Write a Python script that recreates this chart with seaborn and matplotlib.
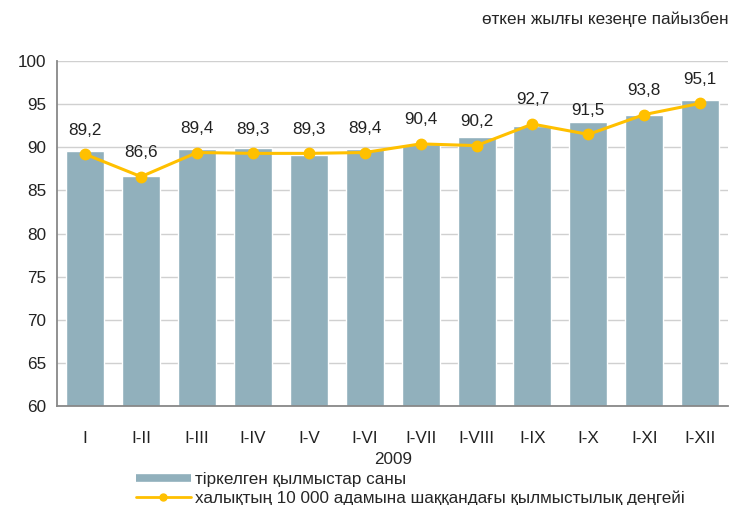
import matplotlib
matplotlib.use('Agg')
import matplotlib.pyplot as plt
from matplotlib.lines import Line2D
import seaborn as sns
import pandas as pd

periods = ['I', 'I-II', 'I-III', 'I-IV', 'I-V', 'I-VI', 'I-VII', 'I-VIII', 'I-IX', 'I-X', 'I-XI', 'I-XII']
crimes = [89.6, 86.7, 89.8, 89.9, 89.1, 89.8, 90.4, 91.2, 92.5, 92.9, 93.7, 95.5]
crime_rate = [89.2, 86.6, 89.4, 89.3, 89.3, 89.4, 90.4, 90.2, 92.7, 91.5, 93.8, 95.1]
rate_labels = ['89,2', '86,6', '89,4', '89,3', '89,3', '89,4', '90,4', '90,2', '92,7', '91,5', '93,8', '95,1']

bar_name = 'тіркелген қылмыстар саны'
line_name = 'халықтың 10 000 адамына шаққандағы қылмыстылық деңгейі'

sns.set_style('white')
plt.rcParams['font.family'] = ['Liberation Sans', 'DejaVu Sans']

df = pd.DataFrame({'period': periods, 'crimes': crimes, 'rate': crime_rate})

fig = plt.figure(figsize=(7.43, 5.05), dpi=100)
ax = fig.add_axes([0.077, 0.196, 0.903, 0.683])

bar_color = '#91B0BC'
line_color = '#FFC000'
fs = 12.3

sns.barplot(data=df, x='period', y='crimes', color=bar_color, width=0.68,
            saturation=1, ax=ax, zorder=2)
ax.plot(range(len(periods)), crime_rate, color=line_color, linewidth=2.2,
        marker='o', markersize=7.5, zorder=3)

# value labels above line points
for i, (v, t) in enumerate(zip(crime_rate, rate_labels)):
    ax.annotate(t, (i, v), xytext=(0, 12), textcoords='offset points',
                ha='center', va='bottom', fontsize=fs, color='#222222')

ax.set_ylim(60, 100)
ax.set_yticks(range(60, 101, 5))
ax.set_xlim(-0.5, len(periods) - 0.5)
ax.yaxis.grid(True, color='#D0D0D0', linewidth=1)
ax.set_axisbelow(True)
ax.set_xlabel('2009', fontsize=fs, labelpad=4)
ax.set_ylabel('')
ax.tick_params(axis='both', labelsize=fs, colors='#222222', length=4)
ax.tick_params(axis='x', pad=14)
ax.tick_params(axis='y', pad=4)
for s in ['top', 'right']:
    ax.spines[s].set_visible(False)
for s in ['left', 'bottom']:
    ax.spines[s].set_color('#888888')
    ax.spines[s].set_linewidth(1.3)

fig.text(0.98, 0.962, 'өткен жылғы кезеңге пайызбен', ha='right', va='center', fontsize=fs)

handles = [
    Line2D([], [], color=bar_color, linewidth=5.5, solid_capstyle='butt'),
    Line2D([], [], color=line_color, linewidth=2, marker='o', markersize=5),
]
fig.legend(handles, [bar_name, line_name], loc='upper left', bbox_to_anchor=(0.183, 0.066),
           frameon=False, fontsize=fs, handlelength=3.2, handletextpad=0.25,
           labelspacing=0.2, borderpad=0, borderaxespad=0)

fig.savefig('out.png', dpi=100)
